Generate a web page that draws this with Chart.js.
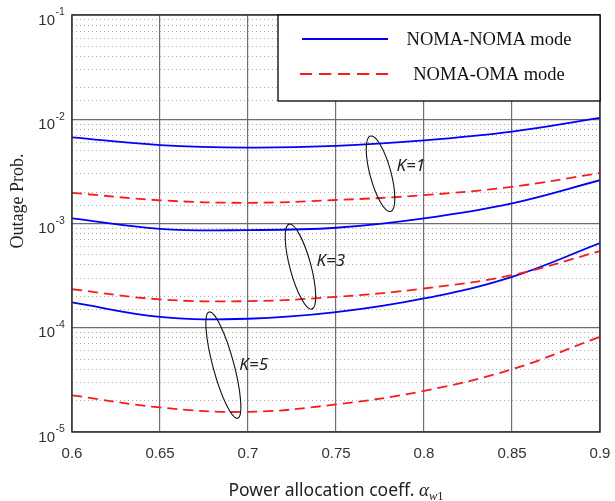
<!DOCTYPE html>
<html>
<head>
<meta charset="utf-8">
<script src="https://cdn.jsdelivr.net/npm/chart.js@4.4.1/dist/chart.umd.min.js"></script>
<style>
  html, body { margin: 0; padding: 0; background: #fff; }
  #wrap { width: 615px; height: 501px; }
</style>
</head>
<body>
<div id="wrap"><canvas id="myChart" width="615" height="501"></canvas></div>
<script>
// power allocation coefficient (x axis)
var alphaW1 = [0.6, 0.65, 0.7, 0.75, 0.8, 0.85, 0.9];

// outage probability
var nomaNomaK1 = [6.7e-3, 5.65e-3, 5.35e-3, 5.55e-3, 6.27e-3, 7.6e-3, 1.03e-2];
var nomaOmaK1  = [1.97e-3, 1.67e-3, 1.58e-3, 1.68e-3, 1.87e-3, 2.25e-3, 3.05e-3];
var nomaNomaK3 = [1.12e-3, 8.9e-4, 8.65e-4, 9.1e-4, 1.12e-3, 1.56e-3, 2.6e-3];
var nomaOmaK3  = [2.34e-4, 1.87e-4, 1.8e-4, 1.98e-4, 2.38e-4, 3.2e-4, 5.43e-4];
var nomaNomaK5 = [1.75e-4, 1.27e-4, 1.22e-4, 1.41e-4, 1.91e-4, 3.08e-4, 6.5e-4];
var nomaOmaK5  = [2.25e-5, 1.72e-5, 1.56e-5, 1.84e-5, 2.48e-5, 4.0e-5, 8.2e-5];

var xTicks = [0.6, 0.65, 0.7, 0.75, 0.8, 0.85, 0.9];
var yDecades = [-1, -2, -3, -4, -5];
var legendLabels = ['NOMA-NOMA mode', 'NOMA-OMA mode'];

// K groups marked with ellipses (centre in data units)
var kNotes = [
  { text: 'K=1', x: 0.7753, y: 3.0e-3, len: 78 },
  { text: 'K=3', x: 0.7298, y: 3.86e-4, len: 88 },
  { text: 'K=5', x: 0.686, y: 4.38e-5, len: 110 }
];

var BLUE = '#0000ff';
var RED = '#ff1a1a';

function pts(ys) {
  return ys.map(function (v, i) { return { x: alphaW1[i], y: v }; });
}
function solid(label, ys) {
  return { label: label, data: pts(ys), borderColor: BLUE, borderWidth: 1.8,
    pointRadius: 0, tension: 0.4, fill: false };
}
function dashed(label, ys) {
  return { label: label, data: pts(ys), borderColor: RED, borderWidth: 1.8,
    borderDash: [10, 6], pointRadius: 0, tension: 0.4, fill: false };
}

function isDecade(v) {
  var l = Math.log10(v);
  return Math.abs(l - Math.round(l)) < 1e-6;
}

var decorations = {
  id: 'decorations',
  afterDatasetsDraw: function (chart) {
    var c = chart.ctx, a = chart.chartArea;
    var xs = chart.scales.x, ys = chart.scales.y;
    c.save();

    // ellipses and K labels
    c.strokeStyle = '#111';
    c.lineWidth = 1.1;
    kNotes.forEach(function (n) {
      var cx = xs.getPixelForValue(n.x), cy = ys.getPixelForValue(n.y);
      c.beginPath();
      c.ellipse(cx, cy, 10.5, n.len / 2, -15 * Math.PI / 180, 0, Math.PI * 2);
      c.stroke();
      c.fillStyle = '#222';
      c.font = 'italic 17px "Noto Sans"';
      c.textBaseline = 'middle';
      c.textAlign = 'left';
      c.fillText(n.text, cx + 16, cy - 8 + (n.len - 78) * 0.25);
    });

    // frame
    c.strokeStyle = '#333';
    c.lineWidth = 1.5;
    c.strokeRect(a.left, a.top, a.right - a.left, a.bottom - a.top);

    // legend box
    var lx = 278, ly = a.top, lw = a.right - 278, lh = 86;
    c.fillStyle = '#fff';
    c.fillRect(lx, ly, lw, lh);
    c.strokeStyle = '#000';
    c.lineWidth = 1.3;
    c.strokeRect(lx, ly, lw, lh);
    c.lineWidth = 1.8;
    c.strokeStyle = BLUE;
    c.beginPath(); c.moveTo(302, ly + 24); c.lineTo(388, ly + 24); c.stroke();
    c.strokeStyle = RED;
    c.setLineDash([12, 7]);
    c.beginPath(); c.moveTo(300, ly + 59); c.lineTo(388, ly + 59); c.stroke();
    c.setLineDash([]);
    c.fillStyle = '#111';
    c.font = '18.5px "Liberation Serif"';
    c.textAlign = 'center';
    c.textBaseline = 'middle';
    c.fillText(legendLabels[0], 489, ly + 25);
    c.fillText(legendLabels[1], 489, ly + 60);

    // y tick labels 10^k
    yDecades.forEach(function (k) {
      var y = ys.getPixelForValue(Math.pow(10, k));
      c.fillStyle = '#333';
      c.textAlign = 'right';
      c.textBaseline = 'middle';
      c.font = '15px "Liberation Sans"';
      c.fillText('10', 55, y + 5.5);
      c.textAlign = 'left';
      c.font = '10.5px "Liberation Sans"';
      c.fillText(String(k), 55.5, y - 2.5);
    });

    // y title
    c.save();
    c.translate(18, 201);
    c.rotate(-Math.PI / 2);
    c.fillStyle = '#222';
    c.font = '18px "Liberation Serif"';
    c.textAlign = 'center';
    c.textBaseline = 'middle';
    c.fillText('Outage Prob.', 0, 0);
    c.restore();

    // x title with alpha_w1
    var t1 = 'Power allocation coeff. ';
    c.textAlign = 'left';
    c.textBaseline = 'alphabetic';
    c.font = '17.5px "Noto Sans"';
    var w1 = c.measureText(t1).width;
    c.font = 'italic 19px "Liberation Serif"';
    var w2 = c.measureText('\u03b1').width;
    c.font = 'italic 12.5px "Liberation Serif"';
    var w3 = c.measureText('w').width;
    c.font = '12.5px "Liberation Serif"';
    var w4 = c.measureText('1').width;
    var x0 = (a.left + a.right) / 2 - (w1 + w2 + w3 + w4) / 2;
    var base = 496;
    c.fillStyle = '#222';
    c.font = '17.5px "Noto Sans"';
    c.fillText(t1, x0, base);
    c.font = 'italic 19px "Liberation Serif"';
    c.fillText('\u03b1', x0 + w1, base);
    c.font = 'italic 12.5px "Liberation Serif"';
    c.fillText('w', x0 + w1 + w2, base + 4);
    c.font = '12.5px "Liberation Serif"';
    c.fillText('1', x0 + w1 + w2 + w3, base + 4);

    c.restore();
  }
};

var ctx = document.getElementById('myChart').getContext('2d');

var myChart = new Chart(ctx, {
  type: 'line',
  data: {
    datasets: [
      solid('NOMA-NOMA K=1', nomaNomaK1),
      dashed('NOMA-OMA K=1', nomaOmaK1),
      solid('NOMA-NOMA K=3', nomaNomaK3),
      dashed('NOMA-OMA K=3', nomaOmaK3),
      solid('NOMA-NOMA K=5', nomaNomaK5),
      dashed('NOMA-OMA K=5', nomaOmaK5)
    ]
  },
  options: {
    responsive: false,
    animation: false,
    layout: { padding: { top: 15, right: 15, left: 0, bottom: 0 } },
    plugins: {
      legend: { display: false },
      tooltip: { enabled: false }
    },
    scales: {
      x: {
        type: 'linear',
        min: 0.6,
        max: 0.9,
        afterBuildTicks: function (scale) {
          scale.ticks = xTicks.map(function (v) { return { value: v }; });
        },
        afterFit: function (scale) {
          scale.height = 69;
          scale.paddingLeft = 0;
          scale.paddingRight = 0;
        },
        ticks: {
          autoSkip: false,
          maxRotation: 0,
          padding: 13,
          color: '#333',
          font: { family: '"Liberation Sans"', size: 15 },
          callback: function (v) { return String(Number(v.toFixed(2))); }
        },
        grid: { color: '#6e6e6e', lineWidth: 1.2, drawTicks: false },
        border: { display: false }
      },
      y: {
        type: 'logarithmic',
        min: 1e-5,
        max: 1e-1,
        afterFit: function (scale) {
          scale.width = 72;
          scale.paddingTop = 0;
          scale.paddingBottom = 0;
        },
        ticks: { display: false },
        grid: {
          drawTicks: false,
          color: function (c) {
            return c.tick && isDecade(c.tick.value) ? '#6e6e6e' : '#aaaaaa';
          },
          lineWidth: function (c) {
            return c.tick && isDecade(c.tick.value) ? 1.2 : 1;
          }
        },
        border: {
          display: false,
          dash: function (c) {
            return c.tick && isDecade(c.tick.value) ? [] : [1, 3];
          }
        }
      }
    }
  },
  plugins: [decorations]
});
</script>
</body>
</html>
